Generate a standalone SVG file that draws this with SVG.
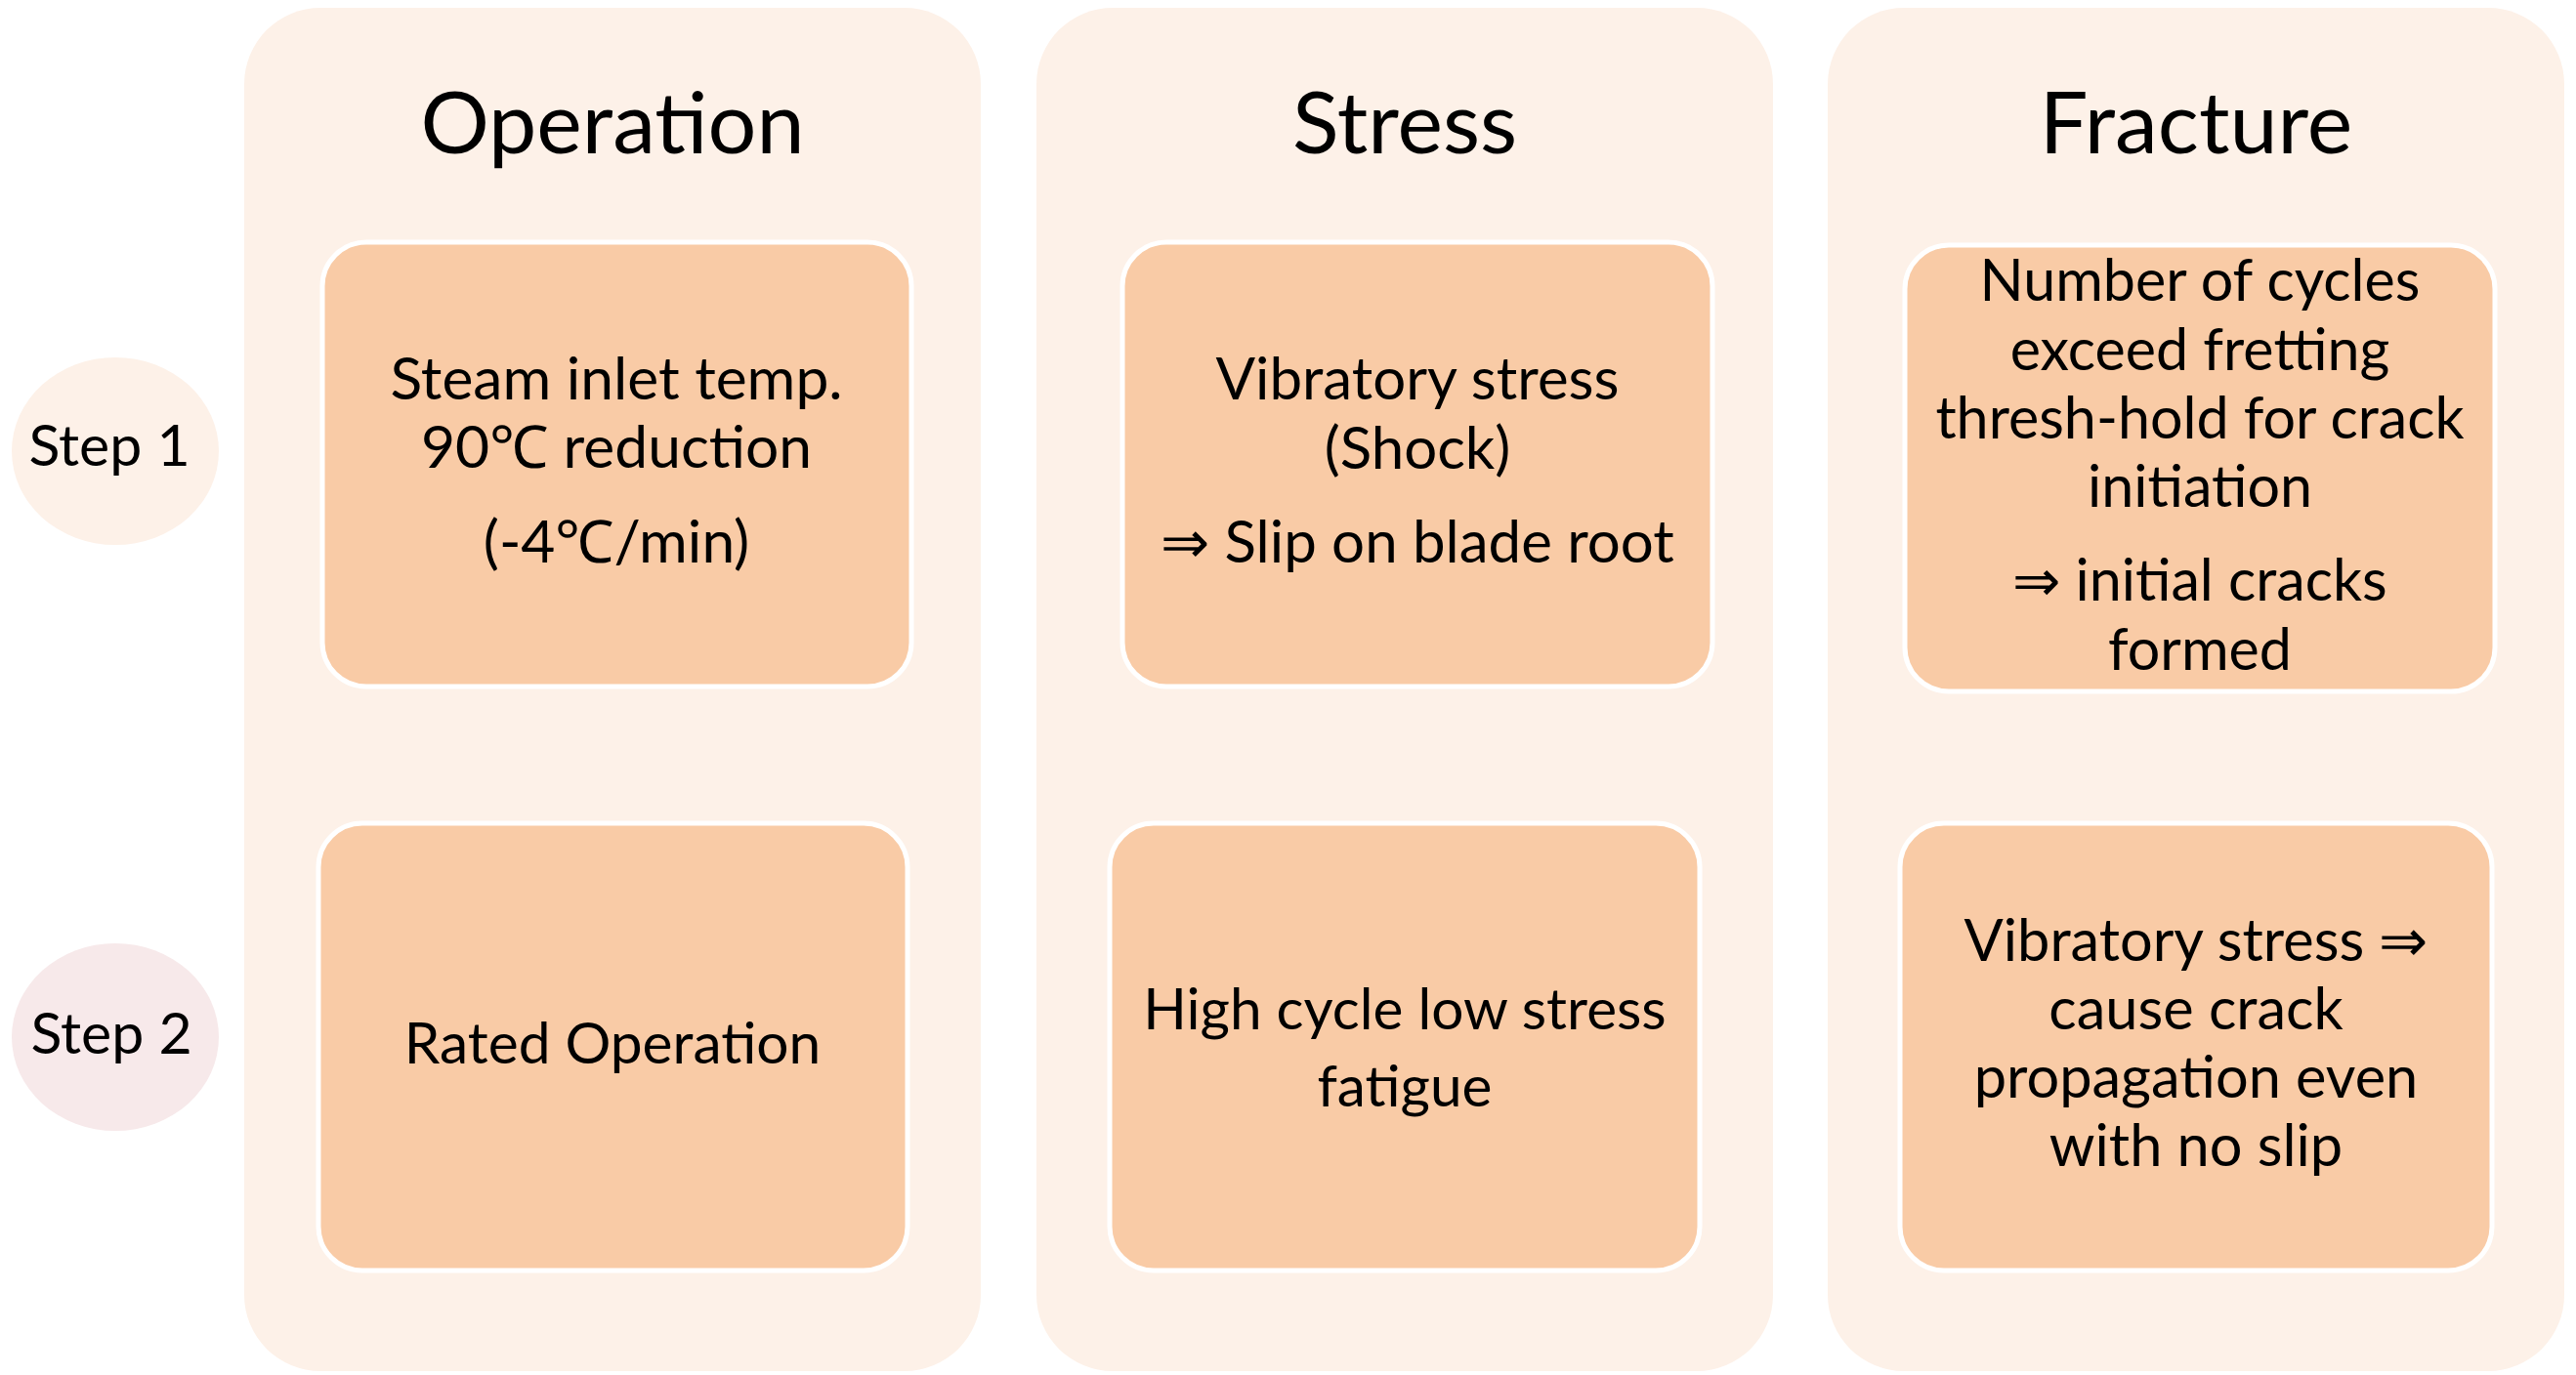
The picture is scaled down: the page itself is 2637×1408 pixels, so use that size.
<svg xmlns="http://www.w3.org/2000/svg" width="2637" height="1408" viewBox="0 0 2637 1408">
<style>
.col{fill:#FDF1E8;}
.box{fill:#F9CBA6;stroke:#FFFFFF;stroke-width:5;}
.t{font-family:Lato,"Open Sans",sans-serif;fill:#000;text-anchor:middle;}
.h{font-size:88px;}
.s{font-size:59px;}
.o1{font-size:60.5px;}
.o2{font-size:58.6px;}
.s1{font-size:60px;}
.s2{font-size:58.5px;}
.f1{font-size:59.2px;}
.f2{font-size:59.5px;}
</style>
<rect width="2637" height="1408" fill="#FFFFFF"/>
<g id="col-operation"><rect class="col" x="250" y="8" width="754" height="1396" rx="78"/><text class="t h" x="627" y="157">Operation</text></g>
<g id="col-stress"><rect class="col" x="1061" y="8" width="754" height="1396" rx="78"/><text class="t h" x="1438" y="157">Stress</text></g>
<g id="col-fracture"><rect class="col" x="1871" y="8" width="754" height="1396" rx="78"/><text class="t h" x="2248" y="157">Fracture</text></g>
<g id="step1"><ellipse cx="118" cy="462" rx="106" ry="96" fill="#FDF1E8"/><text class="t s" x="112" y="477">Step 1</text></g>
<g id="step2"><ellipse cx="118" cy="1062" rx="106" ry="96" fill="#F7E9EA"/><text class="t s" x="114" y="1079">Step 2</text></g>
<g id="op1"><rect class="box" x="330" y="248" width="603" height="455" rx="45"/>
<text class="t o1" x="631" y="409">Steam inlet temp.</text>
<text class="t o1" x="631" y="479">90℃ reduction</text>
<text class="t o1" x="631" y="576">(-4℃/min)</text></g>
<g id="op2"><rect class="box" x="326" y="843" width="603" height="458" rx="45"/>
<text class="t o2" x="627" y="1089">Rated Operation</text></g>
<g id="st1"><rect class="box" x="1149" y="248" width="604" height="455" rx="45"/>
<text class="t s1" x="1451" y="409">Vibratory stress</text>
<text class="t s1" x="1451" y="480">(Shock)</text>
<text class="t s1" x="1451" y="576">⇒ Slip on blade root</text></g>
<g id="st2"><rect class="box" x="1136" y="843" width="604" height="458" rx="45"/>
<text class="t s2" x="1438" y="1054">High cycle low stress</text>
<text class="t s2" x="1438" y="1133">fatigue</text></g>
<g id="fr1"><rect class="box" x="1950" y="251" width="604" height="457" rx="45"/>
<text class="t f1" x="2252" y="308">Number of cycles</text>
<text class="t f1" x="2252" y="379">exceed fretting</text>
<text class="t f1" x="2252" y="449">thresh-hold for crack</text>
<text class="t f1" x="2252" y="519">initiation</text>
<text class="t f1" x="2252" y="615">⇒ initial cracks</text>
<text class="t f1" x="2252" y="686">formed</text></g>
<g id="fr2"><rect class="box" x="1945" y="843" width="606" height="458" rx="45"/>
<text class="t f2" x="2248" y="984">Vibratory stress ⇒</text>
<text class="t f2" x="2248" y="1054">cause crack</text>
<text class="t f2" x="2248" y="1124">propagation even</text>
<text class="t f2" x="2248" y="1194">with no slip</text></g>
<g id="connectors"></g>
</svg>
